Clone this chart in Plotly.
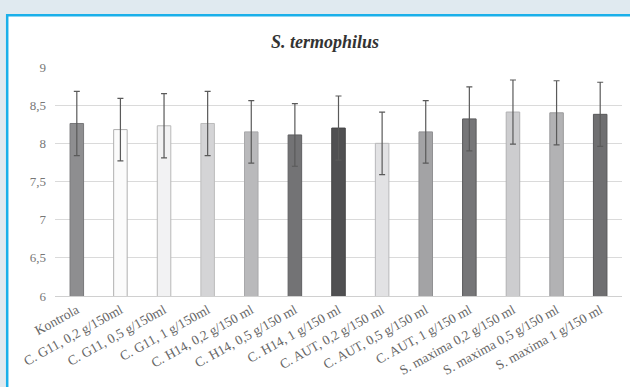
import plotly.graph_objects as go

categories = ["Kontrola", "C. G11, 0,2 g/150ml", "C. G11, 0,5 g/150ml", "C. G11, 1 g/150ml",
              "C. H14, 0,2 g/150 ml", "C. H14, 0,5 g/150 ml", "C. H14, 1 g/150 ml",
              "C. AUT, 0,2 g/150 ml", "C. AUT, 0,5 g/150 ml", "C. AUT, 1 g/150 ml",
              "S. maxima 0,2 g/150 ml", "S. maxima 0,5 g/150 ml", "S. maxima 1 g/150 ml"]
values = [8.26, 8.18, 8.23, 8.26, 8.15, 8.11, 8.20, 8.00, 8.15, 8.32, 8.41, 8.40, 8.38]
errors = [0.42, 0.41, 0.42, 0.42, 0.41, 0.41, 0.42, 0.41, 0.41, 0.42, 0.42, 0.42, 0.42]
y_ticks = [6, 6.5, 7, 7.5, 8, 8.5, 9]
y_tick_labels = ["6", "6,5", "7", "7,5", "8", "8,5", "9"]

fills = ["#8e8e90", "#fbfbfb", "#f2f2f3", "#d4d4d6", "#b9b9bb", "#737375", "#505052",
         "#e2e2e4", "#a3a3a5", "#767678", "#cdcdcf", "#b2b2b4", "#6f6f71"]
outlines = ["#78787a", "#b0b0b0", "#b8b8b8", "#bcbcbc", "#a8a8aa", "#606062", "#444446",
            "#b8b8ba", "#909092", "#5a5a5c", "#b0b0b2", "#9a9a9c", "#58585a"]

W, H = 630, 387
ML, MR, MT, MB = 55, 8, 67, 91
PW, PH = W - ML - MR, H - MT - MB

def px_x(px):
    return (px - ML) / PW

def px_y(py):
    return (H - MB - py) / PH

BG = "#e0eaf0"
BLUE = "#1ab0ea"

fig = go.Figure()
fig.add_trace(go.Bar(
    x=categories, y=values,
    marker=dict(color=fills, line=dict(color=outlines, width=1)),
    width=0.31,
    error_y=dict(type="data", array=errors, visible=True, color="#5a5a5a", thickness=1.2, width=3),
    showlegend=False,
))

frame = [
    dict(type="rect", xref="paper", yref="paper", layer="below", line=dict(width=0), fillcolor=BG,
         x0=px_x(0), x1=px_x(W), y0=px_y(14), y1=px_y(0)),
    dict(type="rect", xref="paper", yref="paper", layer="below", line=dict(width=0), fillcolor=BG,
         x0=px_x(0), x1=px_x(6), y0=px_y(H), y1=px_y(0)),
    dict(type="line", xref="paper", yref="paper", layer="below", line=dict(color=BLUE, width=2.5),
         x0=px_x(6), x1=px_x(W), y0=px_y(15.2), y1=px_y(15.2)),
    dict(type="line", xref="paper", yref="paper", layer="below", line=dict(color=BLUE, width=2.5),
         x0=px_x(7.2), x1=px_x(7.2), y0=px_y(H), y1=px_y(14)),
]

fig.update_layout(
    width=W, height=H,
    margin=dict(l=ML, r=MR, t=MT, b=MB, autoexpand=False),
    paper_bgcolor="white",
    plot_bgcolor="rgba(0,0,0,0)",
    separators=", ",
    title=dict(text="<b><i>S. termophilus</i></b>", x=325 / W, xref="container", xanchor="center",
               y=1 - 42 / H, yref="container", yanchor="middle",
               font=dict(family="Liberation Serif", size=18, color="#333333")),
    shapes=frame,
    xaxis=dict(tickangle=-29, tickfont=dict(family="Liberation Serif", size=13.5, color="#666666"),
               showline=True, linecolor="#d0d0d0", linewidth=1, ticks="", showgrid=False,
               automargin=False),
    yaxis=dict(range=[6, 9], tickvals=y_ticks, ticktext=y_tick_labels, showgrid=True,
               gridcolor="#dadada", gridwidth=1, zeroline=False, showline=False, ticks="",
               tickfont=dict(family="Liberation Serif", size=13, color="#777777"), ticklabelstandoff=8,
               automargin=False),
)

fig.write_html("out.html", config={"displayModeBar": False},
               post_script="document.body.style.margin='0';document.body.style.overflow='hidden';")
